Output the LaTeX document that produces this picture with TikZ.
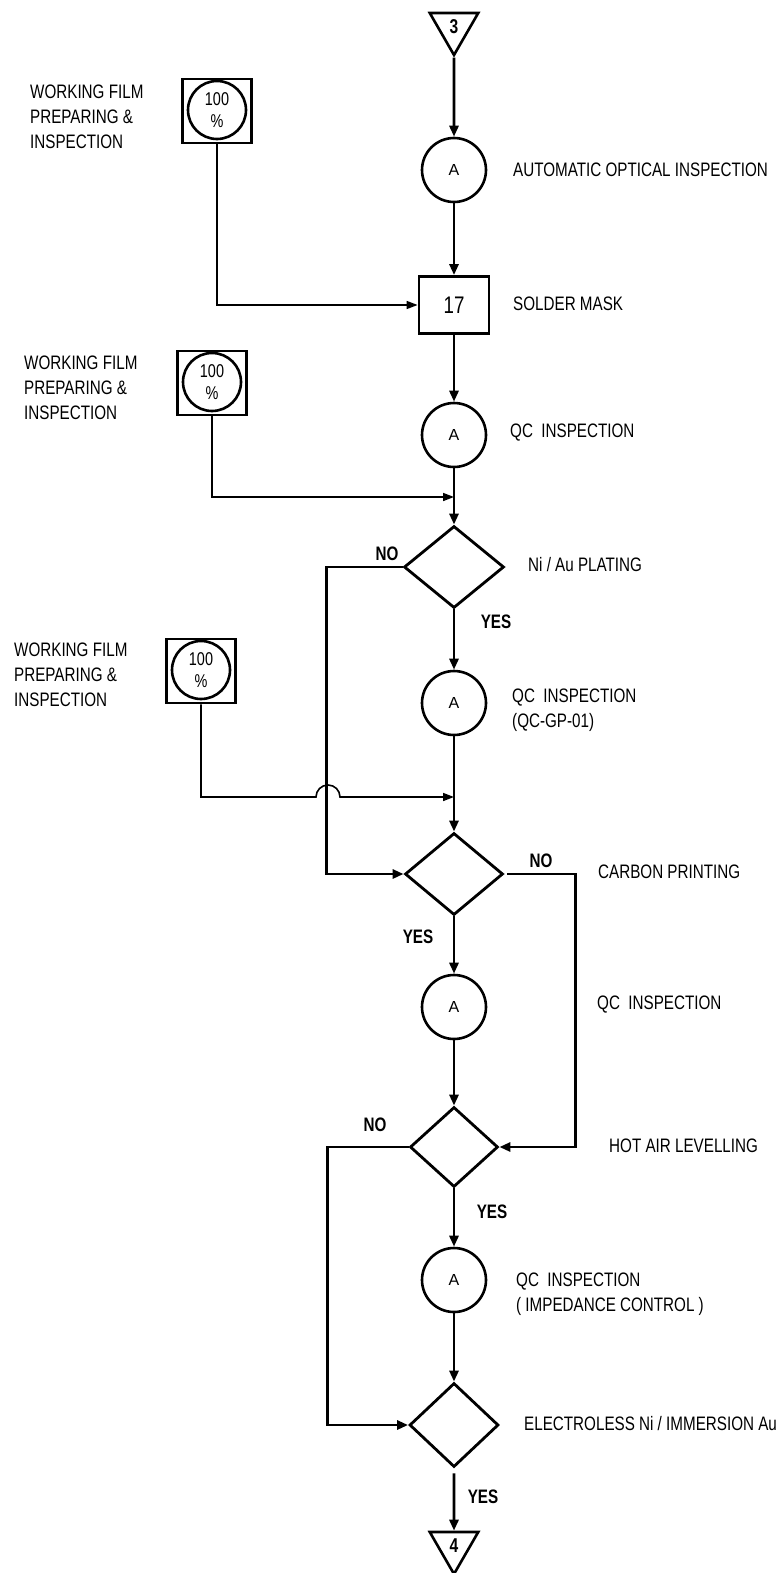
\documentclass[tikz,border=0pt]{standalone}
\usepackage{fontspec}
\setmainfont{Liberation Sans}[FakeStretch=0.78]
\newfontfamily\plainsans{Liberation Sans}
\usetikzlibrary{shapes.geometric,arrows.meta}
\tikzset{
  flow/.style={line width=2.8pt,-{Triangle[length=11pt,width=9pt]}},
  feed/.style={line width=1.6pt,-{Triangle[length=11pt,width=8pt]}},
  insp/.style={circle,draw,line width=2.6pt,minimum size=64pt,inner sep=0pt,font=\plainsans\fontsize{16}{17}\selectfont},
  stepbox/.style={rectangle,draw,line width=2.8pt,minimum width=70pt,minimum height=57pt,font=\fontsize{24}{25}\selectfont},
  decide/.style={diamond,draw,line width=2.8pt,inner sep=0pt},
  offpage/.style={regular polygon,regular polygon sides=3,shape border rotate=180,draw,line width=2.6pt,minimum size=56pt,inner sep=0pt,font=\bfseries\fontsize{20}{20}\selectfont},
  filmbox/.style={rectangle,draw,line width=2.6pt,minimum width=69pt,minimum height=64pt},
  filmcirc/.style={circle,draw,line width=2.6pt,minimum size=58pt,inner sep=0pt,align=center,font=\fontsize{18.5}{22}\selectfont},
  lbl/.style={anchor=west,inner sep=0pt,align=left,font=\fontsize{19.5}{25}\selectfont},
  yn/.style={inner sep=0pt,font=\bfseries\fontsize{19.5}{20}\selectfont}
}
\begin{document}
\begin{tikzpicture}[x=1pt,y=-1pt]
  \useasboundingbox (0,0) rectangle (783,1573);
  % Main column
  \node[offpage] (c3) at (454,27) {3};
  \node[insp] (a1) at (454,170) {A};
  \node[stepbox] (m17) at (454,305) {17};
  \node[insp] (a2) at (454,435) {A};
  \node[decide,minimum width=100pt,minimum height=82pt] (d1) at (454,567) {};
  \node[insp] (a3) at (454,703) {A};
  \node[decide,minimum width=98pt,minimum height=82pt] (d2) at (454,874) {};
  \node[insp] (a4) at (454,1007) {A};
  \node[decide,minimum width=88pt,minimum height=80pt] (d3) at (454,1147) {};
  \node[insp] (a5) at (454,1280) {A};
  \node[decide,minimum width=89pt,minimum height=84pt] (d4) at (454,1425) {};
  \node[offpage] (c4) at (454,1546) {4};
  % Working film
  \node[filmbox] (fb1) at (217,111) {};
  \node[filmcirc] (fc1) at (217,110) {100\\\%};
  \node[filmbox] (fb2) at (212,383) {};
  \node[filmcirc] (fc2) at (212,382) {100\\\%};
  \node[filmbox] (fb3) at (201,671) {};
  \node[filmcirc] (fc3) at (201,670) {100\\\%};
  \node[lbl] (wf1) at (30,117) {WORKING FILM\\PREPARING \&\\INSPECTION};
  \node[lbl] (wf2) at (24,388) {WORKING FILM\\PREPARING \&\\INSPECTION};
  \node[lbl] (wf3) at (14,675) {WORKING FILM\\PREPARING \&\\INSPECTION};
  % Step labels
  \node[lbl] (t1) at (513,170) {AUTOMATIC OPTICAL INSPECTION};
  \node[lbl] (t2) at (513,304) {SOLDER MASK};
  \node[lbl] (t3) at (510,433) {QC\ \ INSPECTION};
  \node[lbl] (t4) at (528,565) {Ni / Au PLATING};
  \node[lbl] (t5) at (512,710) {QC\ \ INSPECTION\\(QC-GP-01)};
  \node[lbl] (t6) at (598,872) {CARBON PRINTING};
  \node[lbl] (t7) at (597,1005) {QC\ \ INSPECTION};
  \node[lbl] (t8) at (609,1146) {HOT AIR LEVELLING};
  \node[lbl] (t9) at (516,1294) {QC\ \ INSPECTION\\( IMPEDANCE CONTROL )};
  \node[lbl] (t10) at (524,1424) {ELECTROLESS Ni / IMMERSION Au};
  % Yes / no
  \node[yn] (n1) at (387,554) {NO};
  \node[yn] (y1) at (496,622) {YES};
  \node[yn] (n2) at (541,861) {NO};
  \node[yn] (y2) at (418,937) {YES};
  \node[yn] (n3) at (375,1125) {NO};
  \node[yn] (y3) at (492,1212) {YES};
  \node[yn] (y4) at (483,1497) {YES};
  % Connectors
  \draw[flow] (c3) -- (a1);
  \draw[flow] (a1) -- (m17);
  \draw[flow] (m17) -- (a2);
  \draw[flow] (a2) -- (d1);
  \draw[flow] (d1) -- (a3);
  \draw[flow] (a3) -- (d2);
  \draw[flow] (d2) -- (a4);
  \draw[flow] (a4) -- (d3);
  \draw[flow] (d3) -- (a5);
  \draw[flow] (a5) -- (d4);
  \draw[flow] ([yshift=-5pt]d4.south) -- (c4);
  \draw[flow] (d1.west) -- ++(-76,0) |- (d2.west);
  \draw[flow] ([xshift=3pt]d2.east) -- ++(68,0) |- (d3.east);
  \draw[flow] (d3.west) -- ++(-81,0) |- (d4.west);
  % Film feeds
  \coordinate (j2) at (454,497);
  \coordinate (j3) at (454,797);
  \coordinate (hop) at (316,797);
  \draw[feed] (fb1.south) |- (m17.west);
  \draw[feed] (fb2.south) |- (j2);
  \draw[feed] (fb3.south) |- (hop) arc (180:360:12) -- (j3);
\end{tikzpicture}
\end{document}
